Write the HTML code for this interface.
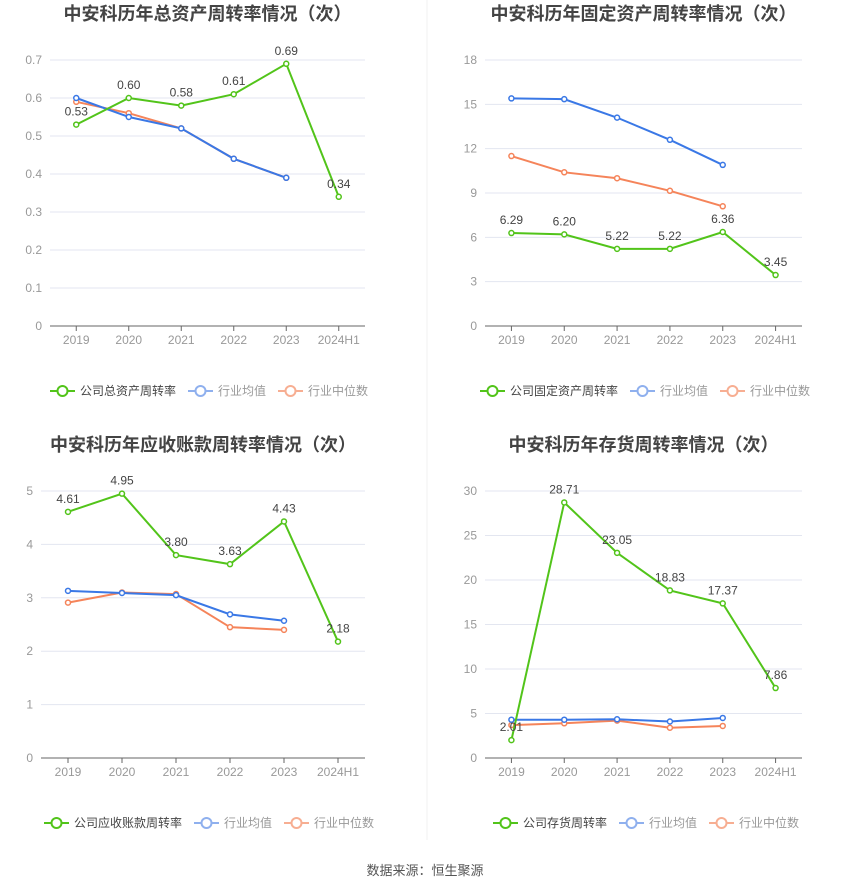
<!DOCTYPE html>
<html><head><meta charset="utf-8">
<style>
body{margin:0;background:#fff;font-family:"Liberation Sans","Noto Sans CJK SC",sans-serif;}
#wrap{position:relative;width:850px;height:891px;}
svg text{font-family:"Liberation Sans","Noto Sans CJK SC",sans-serif;}
</style></head><body>
<div id="wrap">
<svg id="svg" width="850" height="891"></svg>
</div>
<script>
const categories = ["2019","2020","2021","2022","2023","2024H1"];
const totalAssetCompany = [0.53,0.60,0.58,0.61,0.69,0.34];
const totalAssetAvg = [0.60,0.55,0.52,0.44,0.39];
const totalAssetMedian = [0.59,0.56,0.52,0.44,0.39];
const totalAssetTicks = [0,0.1,0.2,0.3,0.4,0.5,0.6,0.7];
const fixedAssetCompany = [6.29,6.20,5.22,5.22,6.36,3.45];
const fixedAssetAvg = [15.4,15.35,14.1,12.6,10.9];
const fixedAssetMedian = [11.5,10.4,10.0,9.15,8.1];
const fixedAssetTicks = [0,3,6,9,12,15,18];
const receivableCompany = [4.61,4.95,3.80,3.63,4.43,2.18];
const receivableAvg = [3.13,3.09,3.05,2.69,2.57];
const receivableMedian = [2.91,3.10,3.07,2.45,2.40];
const receivableTicks = [0,1,2,3,4,5];
const inventoryCompany = [2.01,28.71,23.05,18.83,17.37,7.86];
const inventoryAvg = [4.3,4.3,4.35,4.1,4.5];
const inventoryMedian = [3.7,3.9,4.2,3.4,3.6];
const inventoryTicks = [0,5,10,15,20,25,30];

const NS="http://www.w3.org/2000/svg";
const svg=document.getElementById('svg');
function mk(tag,attrs,parent,txt){const e=document.createElementNS(NS,tag);for(const k in attrs)e.setAttribute(k,attrs[k]);if(txt!==undefined)e.textContent=txt;(parent||svg).appendChild(e);return e;}

function drawChart(cfg){
  const g=mk('g',{});
  
  
  const x0=cfg.x0,x1=cfg.x1,yb=cfg.yb,yt=cfg.yt,max=cfg.ticks[cfg.ticks.length-1];
  const step=(x1-x0)/categories.length;
  const xs=i=>x0+step*(i+0.5);
  const ys=v=>yb-(v/max)*(yb-yt);
  const t=mk('text',{x:(x0+x1)/2,y:cfg.titleY,'text-anchor':'middle','font-size':18,'font-weight':'bold',fill:'#444'},g,cfg.title);
  
  
  cfg.ticks.forEach(v=>{
    if(v!==0){const l=mk('line',{x1:x0,x2:x1,y1:ys(v),y2:ys(v),stroke:'#e3e6f0','stroke-width':1},g);
      
      }
    const tl=mk('text',{x:x0-8,y:ys(v)+4,'text-anchor':'end','font-size':12,fill:'#999'},g,String(v));
    
    
  });
  const ax=mk('line',{x1:x0,x2:x1,y1:yb,y2:yb,stroke:'#666','stroke-width':1},g);
  
  
  categories.forEach((c,i)=>{
    mk('line',{x1:xs(i),x2:xs(i),y1:yb,y2:yb+5,stroke:'#666'},g);
    const tl=mk('text',{x:xs(i),y:yb+18,'text-anchor':'middle','font-size':12,fill:'#999'},g,c);
    
    
  });
  const series=[[cfg.median,'#f5845a','industry-median-line'],[cfg.avg,'#3a78e6','industry-average-line'],[cfg.company,'#52c41a','company-line']];
  series.forEach(([arr,col,nm])=>{
    const pts=arr.map((v,i)=>xs(i)+','+ys(v)).join(' ');
    const pl=mk('polyline',{points:pts,fill:'none',stroke:col,'stroke-width':2},g);
    
    
    arr.forEach((v,i)=>{
      const c=mk('circle',{cx:xs(i),cy:ys(v),r:2.5,fill:'#fff',stroke:col,'stroke-width':1.5},g);
      
      
    });
  });
  cfg.company.forEach((v,i)=>{
    const l=mk('text',{x:xs(i),y:ys(v)-9,'text-anchor':'middle','font-size':12,fill:'#444'},g,v.toFixed(2));
    
    
  });
  // legend
  const ly=cfg.legendY;let lx=cfg.legendX;
  const items=[[cfg.legendName,'#52c41a',1],['行业均值','#8fb0ee',0],['行业中位数','#f7ae92',0]];
  items.forEach(([nm,col])=>{
    const lg=mk('g',{},g);
    
    
    mk('line',{x1:lx,x2:lx+25,y1:ly,y2:ly,stroke:col,'stroke-width':2},lg);
    mk('circle',{cx:lx+12.5,cy:ly,r:5,fill:'#fff',stroke:col,'stroke-width':2},lg);
    const tt=mk('text',{x:lx+30,y:ly+4,'font-size':12,fill:col==='#52c41a'?'#444':'#999'},lg,nm);
    lx+=30+nm.length*12+12;
  });
}
drawChart({name:'total-asset-turnover-chart',title:'中安科历年总资产周转率情况（次）',titleY:20,x0:50,x1:365,yb:326,yt:60,ticks:totalAssetTicks,company:totalAssetCompany,avg:totalAssetAvg,median:totalAssetMedian,legendY:391,legendX:50,legendName:'公司总资产周转率'});
drawChart({name:'fixed-asset-turnover-chart',title:'中安科历年固定资产周转率情况（次）',titleY:20,x0:485,x1:802,yb:326,yt:60,ticks:fixedAssetTicks,company:fixedAssetCompany,avg:fixedAssetAvg,median:fixedAssetMedian,legendY:391,legendX:480,legendName:'公司固定资产周转率'});
drawChart({name:'receivable-turnover-chart',title:'中安科历年应收账款周转率情况（次）',titleY:451,x0:41,x1:365,yb:758,yt:491,ticks:receivableTicks,company:receivableCompany,avg:receivableAvg,median:receivableMedian,legendY:823,legendX:44,legendName:'公司应收账款周转率'});
drawChart({name:'inventory-turnover-chart',title:'中安科历年存货周转率情况（次）',titleY:451,x0:485,x1:802,yb:758,yt:491,ticks:inventoryTicks,company:inventoryCompany,avg:inventoryAvg,median:inventoryMedian,legendY:823,legendX:493,legendName:'公司存货周转率'});
const dv=mk('line',{x1:427,x2:427,y1:0,y2:840,stroke:'#f2f2f2'});


const ft=mk('text',{x:425,y:875,'text-anchor':'middle','font-size':13,fill:'#555'},svg,'数据来源：恒生聚源');


</script>
</body></html>
